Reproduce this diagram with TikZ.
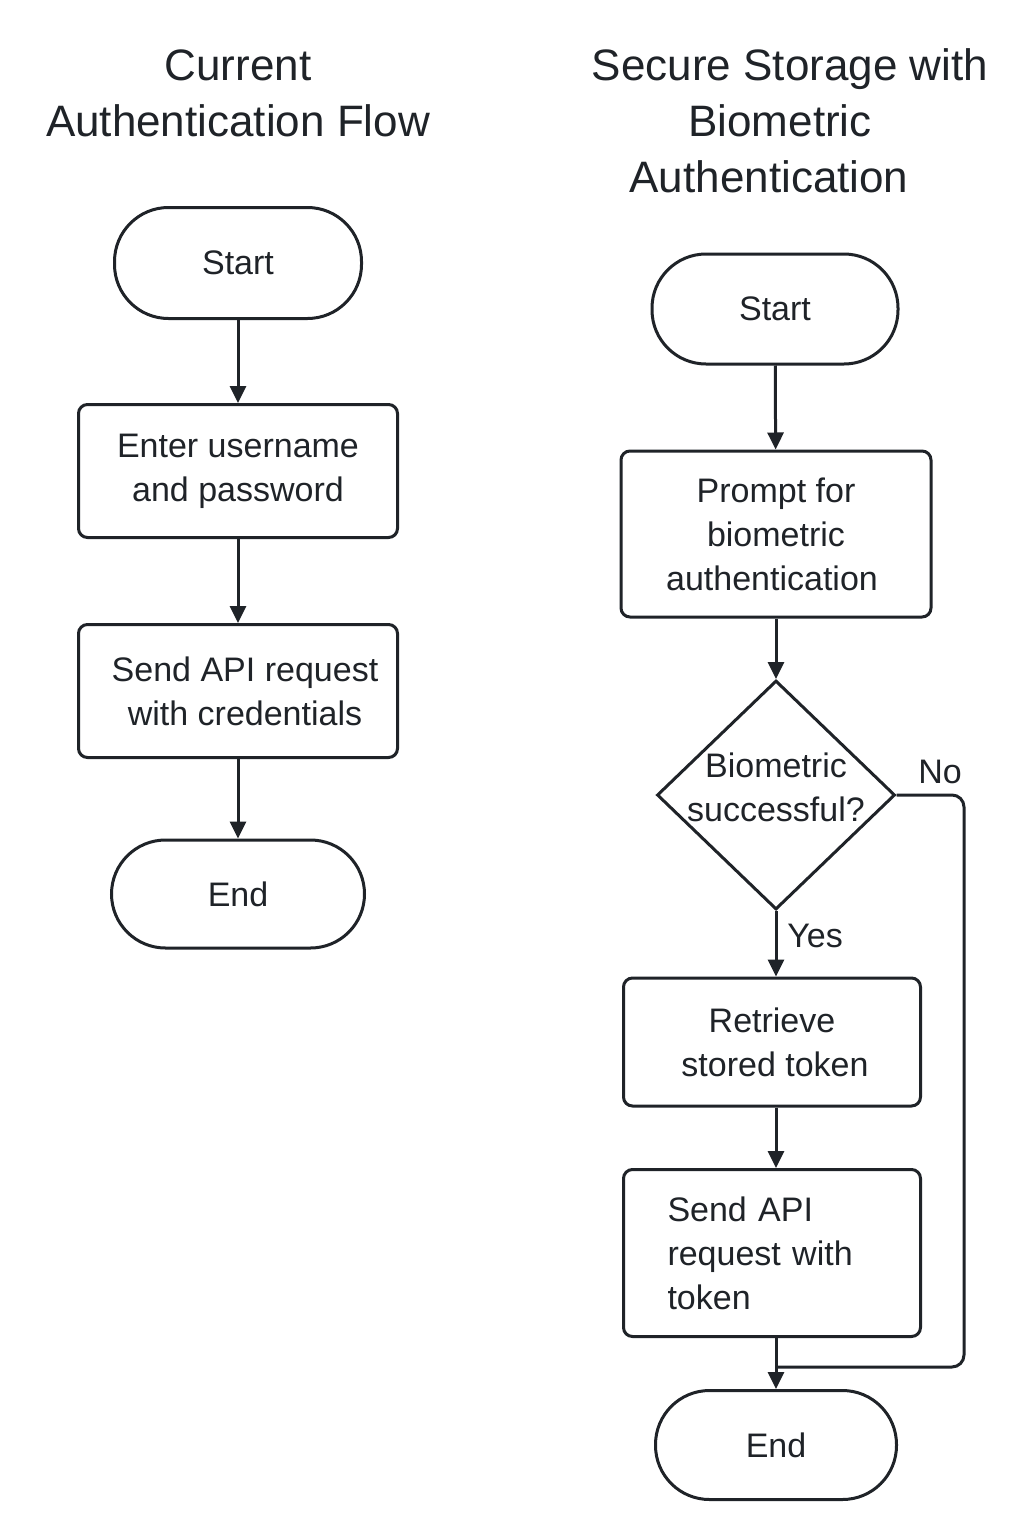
\documentclass[tikz,border=0pt]{standalone}
\usepackage{fontspec}
\setmainfont{Liberation Sans}
\usetikzlibrary{shapes.geometric,arrows.meta}
\definecolor{ink}{HTML}{1F2328}
\begin{document}
\begin{tikzpicture}[x=1pt,y=-1pt,
  every node/.style={text=ink},
  line/.style={draw=ink,line width=3pt},
  arr/.style={line,-{Triangle[length=17pt,width=16pt]}},
  term/.style={line,rectangle,rounded corners=54pt,inner sep=0pt,font=\fontsize{34}{44}\selectfont},
  proc/.style={line,rectangle,rounded corners=9pt,inner sep=0pt,align=center,font=\fontsize{34}{44}\selectfont},
  ttl/.style={align=center,font=\fontsize{44}{56}\selectfont},
  lbl/.style={font=\fontsize{34}{44}\selectfont}]
\useasboundingbox[fill=white] (0,0) rectangle (1024,1536);

% titles
\node[ttl] (t1) at (238,93) {Current\\Authentication Flow};
\node[ttl] (t2) at (790,121) {Secure Storage with\\\hspace*{-20pt}Biometric\\\hspace*{-42pt}Authentication};

% left flow
\node[term,minimum width=247pt,minimum height=111pt] (ls) at (238,263) {Start};
\node[proc,minimum width=319pt,minimum height=133pt] (l1) at (238,471) {Enter username\\and password};
\node[proc,minimum width=319pt,minimum height=133pt] (l2) at (238,691) {\hspace*{14pt}Send API request\\\hspace*{14pt}with credentials};
\node[term,minimum width=253pt,minimum height=108pt] (le) at (238,894) {End};
\draw[arr] (ls) -- (l1);
\draw[arr] (l1) -- (l2);
\draw[arr] (l2) -- (le);

% right flow
\node[term,minimum width=246pt,minimum height=110pt] (rs) at (775,309) {Start};
\node[proc,minimum width=310pt,minimum height=166pt] (r1) at (776,534) {Prompt for\\biometric\\\hspace*{-8pt}authentication};
\node[line,diamond,minimum width=238pt,minimum height=229pt,inner sep=0pt] (d) at (776,795) {};
\node[lbl,align=center] (dt) at (776,787) {Biometric\\successful?};
\node[proc,minimum width=297pt,minimum height=128pt] (r2) at (772,1042) {Retrieve\\\hspace*{6pt}stored token};
\node[proc,minimum width=297pt,minimum height=167pt,text width=209pt,align=left] (r3) at (772,1253) {Send API\\request with\\token};
\node[term,minimum width=241pt,minimum height=109pt] (re) at (776,1445) {End};

\coordinate (nc1) at (964,795);
\coordinate (nc2) at (964,1367);
\coordinate (m) at (776,1367);
\draw[arr] (rs) -- (r1);
\draw[arr] (r1.south -| d.north) -- (d.north);
\draw[arr] (d.south) -- (d.south |- r2.north);
\draw[arr] (r2.south -| d.south) -- (r3.north -| d.south);
\draw[arr] (r3.south -| re.north) -- (re.north);
\draw[line,rounded corners=12pt] (d.east) -- (nc1) -- (nc2) -- (m);
\node[lbl] (yes) at (815,936) {Yes};
\node[lbl] (no) at (940,772) {No};
\end{tikzpicture}
\end{document}
